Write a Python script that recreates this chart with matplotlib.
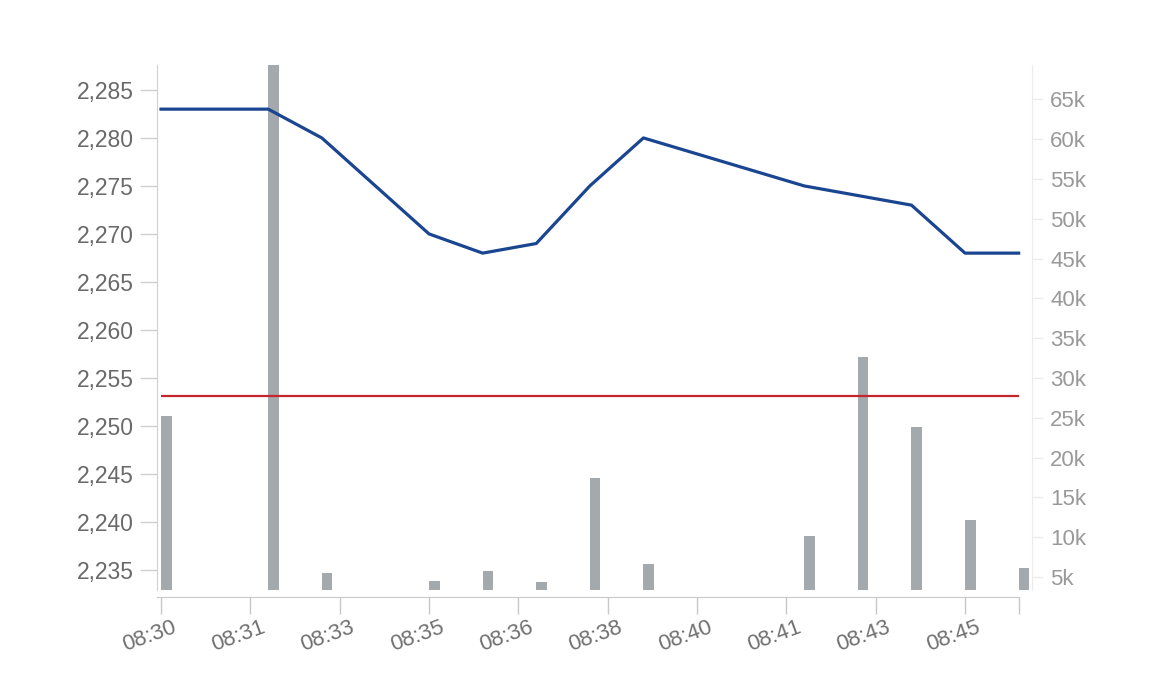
import numpy as np
import pandas as pd
import matplotlib
matplotlib.use("Agg")
import matplotlib.pyplot as plt
import matplotlib.dates as mdates
import matplotlib.ticker as mticker
import matplotlib.transforms as mtransforms

# 分時資料
times = ["08:30", "08:32", "08:33", "08:35", "08:36", "08:37", "08:38",
         "08:39", "08:42", "08:43", "08:44", "08:45", "08:46"]
prices = [2283, 2283, 2280, 2270, 2268, 2269, 2275,
          2280, 2275, 2274, 2273, 2268, 2268]
volumes = [25200, 95000, 5500, 4450, 5800, 4400, 17500,
           6600, 10200, 32600, 23900, 12200, 6200]
ref_price = 2253.1

plt.rcParams['font.family'] = ['Liberation Sans', 'DejaVu Sans']

t = pd.to_datetime(["2024-01-02 " + s for s in times])
t_start = t[0]
t_end = t[-1]

fig = plt.figure(figsize=(11.57, 6.95), dpi=100)
ax = fig.add_axes([0.1357, 0.151, 0.7563, 0.7555])
ax2 = ax.twinx()

# 成交量（右軸）
bar_w = pd.Timedelta(seconds=11.75) / pd.Timedelta(days=1)
ax2.bar(t, volumes, width=bar_w, align="edge", color="#a4a9ad", zorder=1)
ax2.set_ylim(3370, 69300)

# 價格（左軸）
ax.set_zorder(ax2.get_zorder() + 1)
ax.patch.set_visible(False)
ax.plot(t, prices, color="#1a4590", lw=2.3, zorder=3)
ax.hlines(ref_price, t_start, t_end, color="#c4262b", lw=1.6, zorder=2)
ax.set_ylim(2232.9, 2287.6)

xl = t_start - pd.Timedelta(seconds=4.5)
xr = t_end + pd.Timedelta(seconds=15)
ax.set_xlim(xl, xr)
ax2.set_xlim(xl, xr)

ax.yaxis.set_major_locator(mticker.MultipleLocator(5))
ax.yaxis.set_major_formatter(mticker.FuncFormatter(lambda v, p: f"{v:,.0f}"))
ax.tick_params(axis="y", length=12, width=1, color="#d0d0d0", labelsize=16.5,
               labelcolor="#6a6a6a", pad=5)

ax2.yaxis.set_major_locator(mticker.MultipleLocator(5000))
ax2.yaxis.set_major_formatter(mticker.FuncFormatter(lambda v, p: f"{v/1000:.0f}k"))
ax2.tick_params(axis="y", length=8, width=1, color="#ececec", labelsize=16,
                labelcolor="#999999", pad=5)

for a in (ax, ax2):
    a.spines["top"].set_visible(False)
ax.spines["right"].set_visible(False)
ax2.spines["left"].set_visible(False)
ax2.spines["bottom"].set_visible(False)
ax.spines["left"].set_color("#d0d0d0")
ax2.spines["right"].set_color("#ececec")
ax.spines["bottom"].set_color("#c8c8c8")
ax.spines["bottom"].set_position(("outward", 5))
ax.spines["bottom"].set_bounds(mdates.date2num(xl), mdates.date2num(t_end))

# x 軸刻度：每 100 秒
ticks = list(pd.date_range(t_start, t_start + pd.Timedelta(seconds=900), freq="100s"))
labels = [d.strftime("%H:%M") for d in ticks]
ticks.append(t_end)
labels.append("")
ax.xaxis.set_major_locator(mticker.FixedLocator(mdates.date2num(ticks)))
ax.xaxis.set_major_formatter(mticker.FixedFormatter(labels))
ax.tick_params(axis="x", length=12, width=1, color="#c8c8c8", pad=2,
               labelsize=16, labelcolor="#707070", labelrotation=20)

fig.canvas.draw()
offset = mtransforms.ScaledTranslation(-12 / 100, 0, fig.dpi_scale_trans)
for lab in ax.get_xticklabels():
    lab.set_horizontalalignment("center")
    lab.set_transform(lab.get_transform() + offset)

fig.savefig("out.png", dpi=100, facecolor="white")
